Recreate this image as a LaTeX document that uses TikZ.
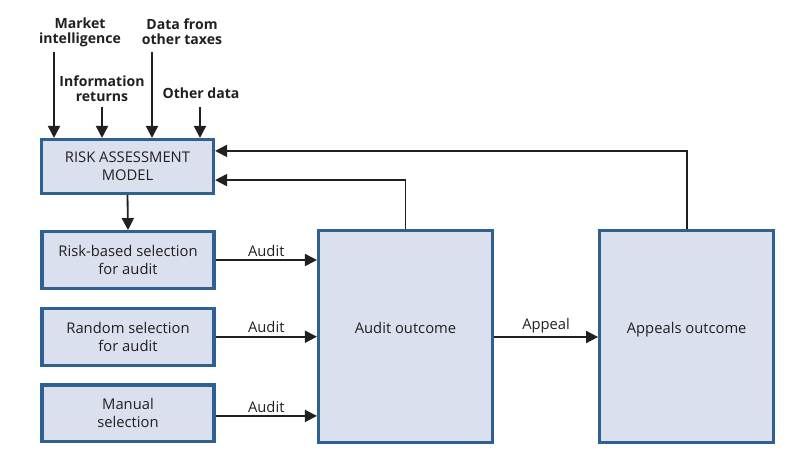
\documentclass[tikz,border=0pt]{standalone}
\usepackage{fontspec}
\setmainfont{Open Sans}
\usetikzlibrary{arrows.meta,positioning,calc}
\definecolor{boxblue}{RGB}{47,96,146}
\definecolor{boxfill}{RGB}{218,224,238}
\definecolor{ink}{RGB}{35,31,32}

\begin{document}
\begin{tikzpicture}[x=0.025cm, y=-0.025cm, node distance=0.42cm,
		box/.style={rectangle, draw=boxblue, line width=2.2pt, fill=boxfill, align=center, text=ink, font=\fontsize{10.5}{12.8}\selectfont},
		selbox/.style={box, minimum width=4.3cm, minimum height=1.42cm},
		outbox/.style={box, minimum width=4.35cm, minimum height=5.3cm},
		flow/.style={draw=ink, line width=1.3pt, -{Triangle[length=0.3cm,width=0.3cm]}},
		lbl/.style={text=ink, font=\fontsize{10.5}{12}\selectfont, inner sep=2pt},
		inlbl/.style={text=ink, align=center, inner sep=1pt, font=\bfseries\fontsize{10}{10.7}\selectfont}]
				\useasboundingbox (0,0) rectangle (787,450);
				
				\node[box, minimum width=4.3cm, minimum height=1.35cm] (model) at (127.5,166.5) {RISK ASSESSMENT\\MODEL};
				\node[selbox] (riskbased) at (128,260) {Risk-based selection\\for audit};
				\node[selbox, below=of riskbased] (random) {Random selection\\for audit};
				\node[selbox, below=of random] (manual) {Manual\\selection};
				\node[outbox] (audit) at (405.5,336.5) {\raisebox{0.45cm}{Audit outcome}};
				\node[outbox, right=2.6cm of audit] (appeals) {\raisebox{0.45cm}{Appeals outcome}};
				
				% inputs to the model
				\node[inlbl] (mktint) at (80,32) {Market\\intelligence};
				\node[inlbl] (taxdata) at (182,32) {Data from\\other taxes};
				\node[inlbl] (inforet) at (102,89) {Information\\returns};
				\node[inlbl] (otherdata) at (201,93) {Other data};
				\coordinate (in1) at (54,52);
				\coordinate (in2) at (102,107);
				\coordinate (in3) at (152,52);
				\coordinate (in4) at (200,107);
				\foreach \c in {in1,in2,in3,in4}
					\draw[flow] (\c) -- (\c |- model.north);
				
				\draw[flow] (model.south) -- (riskbased.north);
				\draw[flow] (riskbased.east) -- node[above, lbl] {Audit} (riskbased.east -| audit.west);
				\draw[flow] (random.east) -- node[above, lbl] {Audit} (random.east -| audit.west);
				\draw[flow] ([yshift=-0.0625cm]manual.east) -- node[above, lbl] {Audit} ([yshift=-0.0625cm]manual.east -| audit.west);
				\draw[flow] ([yshift=-0.0125cm]audit.east) -- node[above, lbl] {Appeal} ([yshift=-0.0125cm]appeals.west);
				
				% feedback
				\draw[flow] (audit.north) |- ([yshift=-0.34cm]model.east);
				\draw[flow] (appeals.north) |- ([yshift=0.39cm]model.east);
			\end{tikzpicture}
\end{document}
